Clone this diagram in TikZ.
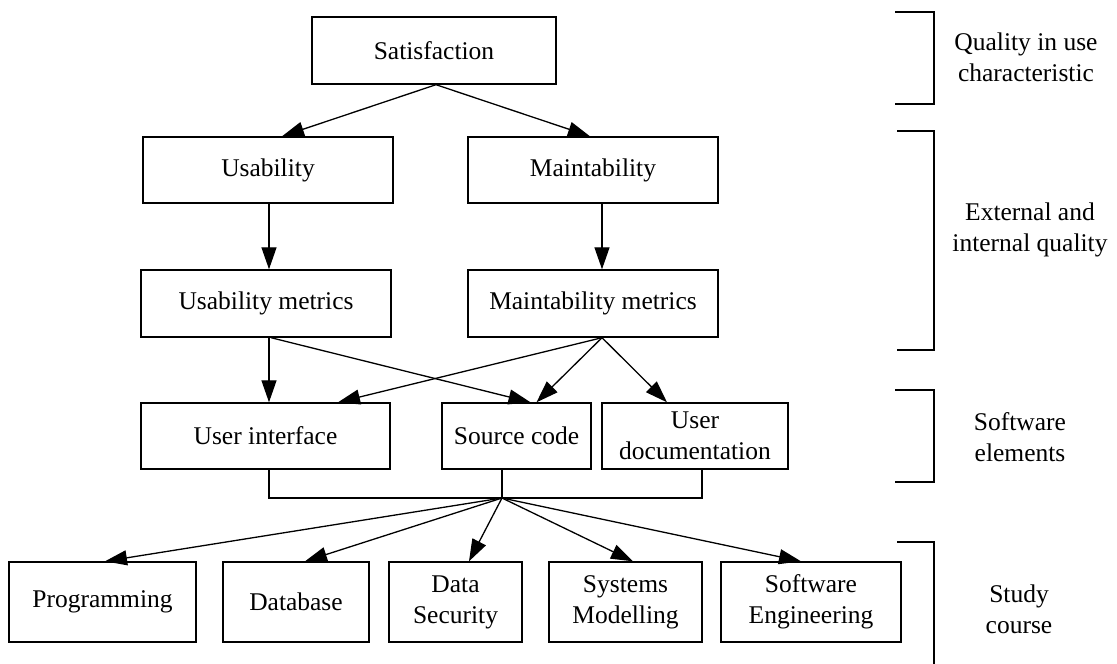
\documentclass[tikz,border=0pt]{standalone}
\usepackage{fontspec}
\setmainfont{Liberation Serif}
\usetikzlibrary{arrows.meta,calc}
\tikzset{
  box/.style={draw, line width=1.4pt, inner sep=0pt, align=center,
              font=\fontsize{25.5}{31}\selectfont},
  arr/.style={line width=1.3pt, -{Triangle[length=22pt,width=15pt]}},
  link/.style={line width=1.3pt},
  brace/.style={line width=1.4pt},
  label/.style={align=center, inner sep=0pt, font=\fontsize{25.5}{31}\selectfont}
}
\begin{document}
\begin{tikzpicture}[x=1pt,y=-1pt]
\useasboundingbox (0,0) rectangle (1117,664);

% quality in use
\node[box, minimum width=244pt, minimum height=67pt] (sat) at (434,50.5) {Satisfaction};

% external and internal quality
\node[box, minimum width=250pt, minimum height=66pt] (usab)  at (268,170) {Usability};
\node[box, minimum width=250pt, minimum height=66pt] (maint) at (593,170) {Maintability};
\node[box, minimum width=250pt, minimum height=67pt] (um) at (266,303.5) {Usability metrics};
\node[box, minimum width=250pt, minimum height=67pt] (mm) at (593,303.5) {Maintability metrics};

% software elements
\node[box, minimum width=249pt, minimum height=66pt] (ui) at (265.5,436) {User interface};
\node[box, minimum width=149pt, minimum height=66pt] (sc) at (516.5,436) {Source code};
\node[box, minimum width=186pt, minimum height=66pt] (ud) at (695,436) {User\\documentation};

% study courses
\node[box, minimum width=187pt, minimum height=80pt] (prog) at (102.5,602) {Programming};
\node[box, minimum width=146pt, minimum height=80pt] (db)   at (296,602) {Database};
\node[box, minimum width=133pt, minimum height=80pt] (ds)   at (455.5,602) {Data\\Security};
\node[box, minimum width=153pt, minimum height=80pt] (sm)   at (625.5,602) {Systems\\Modelling};
\node[box, minimum width=180pt, minimum height=80pt] (se)   at (811,602) {Software\\Engineering};

% arrows between levels
\draw[arr] ($(sat.south)+(2,0)$) -- ($(usab.north)+(14,0)$);
\draw[arr] ($(sat.south)+(2,0)$) -- ($(maint.north)+(-3,0)$);
\draw[arr] ($(usab.south)+(1,0)$) -- ($(um.north)+(3,0)$);
\draw[arr] ($(maint.south)+(9,0)$) -- ($(mm.north)+(9,0)$);

\draw[arr] ($(um.south)+(3,0)$) -- ($(ui.north)+(3.5,0)$);
\draw[arr] ($(um.south)+(5,0)$) -- ($(sc.north)+(14,0)$);
\draw[arr] ($(mm.south)+(9,0)$) -- ($(ui.north)+(72.5,0)$);
\draw[arr] ($(mm.south)+(9,0)$) -- ($(sc.north)+(20,0)$);
\draw[arr] ($(mm.south)+(9,0)$) -- ($(ud.north)+(-28,0)$);

% elements joined into one hub
\coordinate (hub) at (502,498);
\draw[link] ($(ui.south)+(3.5,0)$) |- (hub) -| ($(ud.south)+(7,0)$);
\draw[link] ($(sc.south)+(-14.5,0)$) -- (hub);

\draw[arr] (hub) -- ($(prog.north)+(2.5,0)$);
\draw[arr] (hub) -- ($(db.north)+(9,0)$);
\draw[arr] (hub) -- ($(ds.north)+(13.5,0)$);
\draw[arr] (hub) -- ($(sm.north)+(7.5,0)$);
\draw[arr] (hub) -- ($(se.north)+(-10,0)$);

% level brackets
\draw[brace] (895,12) -- (934,12) -- (934,104) -- (895,104);
\draw[brace] (897,131) -- (934,131) -- (934,350) -- (897,350);
\draw[brace] (895,390) -- (934,390) -- (934,482) -- (895,482);
\draw[brace] (897,542) -- (934,542) -- (934,664);

\node[label] (l1) at (1026,57) {Quality in use\\characteristic};
\node[label] (l2) at (1030,230) {External and\\internal quality};
\node[label] (l3) at (1020,437) {Software\\elements};
\node[label] (l4) at (1019,609) {Study\\course};
\end{tikzpicture}
\end{document}
